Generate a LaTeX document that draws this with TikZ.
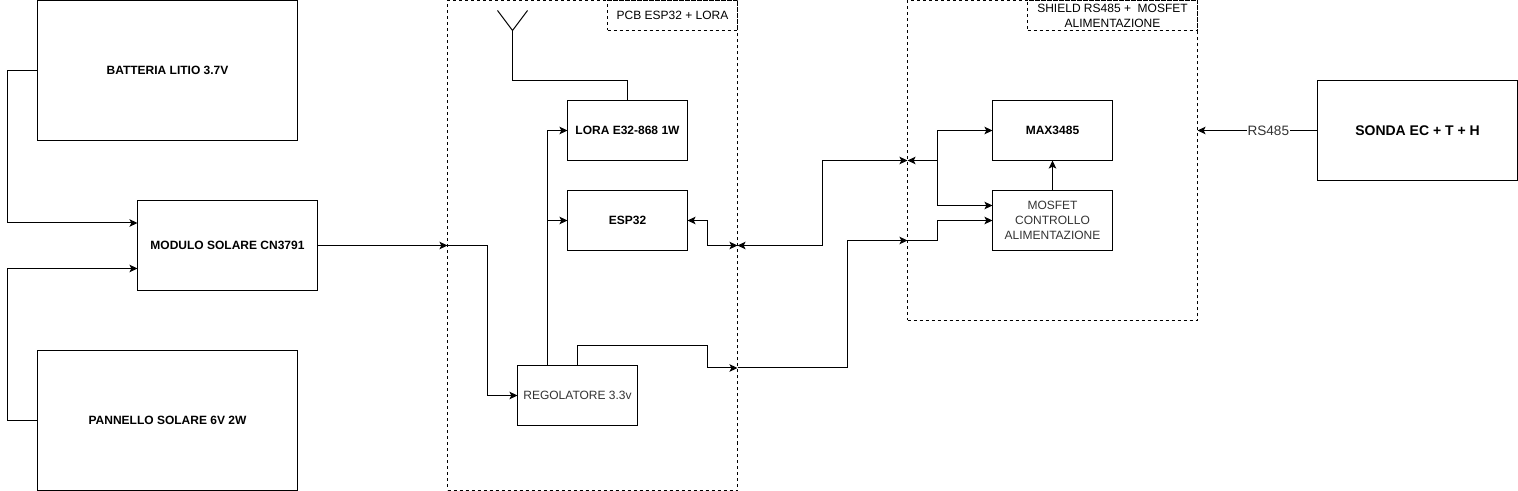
\documentclass[tikz,border=0pt]{standalone}
\usepackage{fontspec}
\setmainfont{Liberation Sans}
\usetikzlibrary{arrows.meta}
\definecolor{softtext}{HTML}{333333}
\tikzset{
  block/.style={draw=black,line width=0.75pt,outer sep=0pt,inner sep=0pt,align=center,font=\fontsize{9}{11.25}\selectfont},
  strong/.style={font=\fontsize{9}{11.25}\selectfont\bfseries},
  frame/.style={draw=black,line width=0.75pt,dash pattern=on 2.25pt off 2.25pt,outer sep=0pt,inner sep=0pt,align=center,font=\fontsize{9}{11.25}\selectfont},
  wire/.style={line width=0.75pt,-{Stealth[length=6pt,width=5.6pt,inset=1.4pt]}},
  twoway/.style={line width=0.75pt,{Stealth[length=6pt,width=5.6pt,inset=1.4pt]}-{Stealth[length=6pt,width=5.6pt,inset=1.4pt]}},
  plain/.style={line width=0.75pt}
}
\begin{document}
\begin{tikzpicture}[x=0.75pt,y=-0.75pt]
\useasboundingbox (-0.5,-0.5) rectangle (1517.5,490.5);
% dashed groups
\node [frame,minimum width=217.5pt,minimum height=367.5pt] (pcb) at (592,245) {};
\node [frame,minimum width=97.5pt,minimum height=22.5pt] (pcblabel) at (672,15) {PCB ESP32 + LORA};
\node [frame,minimum width=217.5pt,minimum height=240pt] (shield) at (1052,160) {};
\node [frame,minimum width=127.5pt,minimum height=22.5pt] (shieldlabel) at (1112,15) {SHIELD RS485 + \ MOSFET\\ALIMENTAZIONE};
% blocks
\node [block,strong,minimum width=195pt,minimum height=105pt] (battery) at (167,70) {BATTERIA LITIO 3.7V};
\node [block,strong,minimum width=135pt,minimum height=67.5pt] (charger) at (227,245) {MODULO SOLARE CN3791};
\node [block,strong,minimum width=195pt,minimum height=105pt] (panel) at (167,420) {PANNELLO SOLARE 6V 2W};
\node [block,strong,minimum width=90pt,minimum height=45pt] (lora) at (627,130) {LORA E32-868 1W};
\node [block,strong,minimum width=90pt,minimum height=45pt] (esp) at (627,220) {ESP32};
\node [block,text=softtext,minimum width=90pt,minimum height=45pt] (regulator) at (577,395) {REGOLATORE 3.3v};
\node [block,strong,minimum width=90pt,minimum height=45pt] (max) at (1052,130) {MAX3485};
\node [block,text=softtext,minimum width=90pt,minimum height=45pt] (mosfet) at (1052,220) {MOSFET\\CONTROLLO\\ALIMENTAZIONE};
\node [block,font=\fontsize{10.5}{12}\selectfont\bfseries,minimum width=150pt,minimum height=75pt] (probe) at (1417,130) {SONDA EC + T + H};
% points on the dashed frames
\coordinate (pcbin) at (447,245);
\coordinate (pcbdata) at (737,245);
\coordinate (pcbpower) at (737,367.5);
\coordinate (shielddata) at (907,160);
\coordinate (shieldpower) at (907,240);
\coordinate (shieldbus) at (1197,130);
\coordinate (chargerup) at (137,222.5);
\coordinate (chargerdown) at (137,268);
\coordinate (regout) at (577,365);
\coordinate (maxin) at (992,130);
\coordinate (mosfetdata) at (992,205);
\coordinate (mosfetpower) at (992,220);
\coordinate (antfoot) at (512,30);
\coordinate (antleft) at (497,10);
\coordinate (antright) at (527,10);
% antenna
\draw [plain] (antleft) -- (antfoot) -- (antright);
\draw [plain] (antfoot) -- (512,80) -- (627,80) -- (lora.north);
% power side
\draw [wire] (battery.west) -- (7,70) -- (7,222.5) -- (chargerup);
\draw [wire] (panel.west) -- (7,420) -- (7,268) -- (chargerdown);
\draw [wire] (charger.east) -- (pcbin);
\draw [wire] (pcbin) -- (487,245) -- (487,395) -- (regulator.west);
\draw [wire] (547,365) -- (547,130) -- (lora.west);
\draw [wire] (547,220) -- (esp.west);
\draw [wire] (regout) -- (577,345) -- (707,345) -- (707,367.5) -- (pcbpower);
\draw [wire] (pcbpower) -- (847,367.5) -- (847,240) -- (shieldpower);
\draw [wire] (shieldpower) -- (937,240) -- (937,220) -- (mosfetpower);
% data side
\draw [twoway] (esp.east) -- (707,220) -- (707,245) -- (pcbdata);
\draw [twoway] (pcbdata) -- (822,245) -- (822,160) -- (shielddata);
\draw [twoway] (shielddata) -- (937,160) -- (937,130) -- (maxin);
\draw [wire] (937,160) -- (937,205) -- (mosfetdata);
\draw [wire] (mosfet.north) -- (max.south);
\draw [wire] (probe.west) -- node [pos=0.41,fill=white,inner sep=0.5pt,text=softtext,font=\fontsize{10.2}{12}\selectfont] (buslabel) {RS485} (shieldbus);
\end{tikzpicture}
\end{document}
